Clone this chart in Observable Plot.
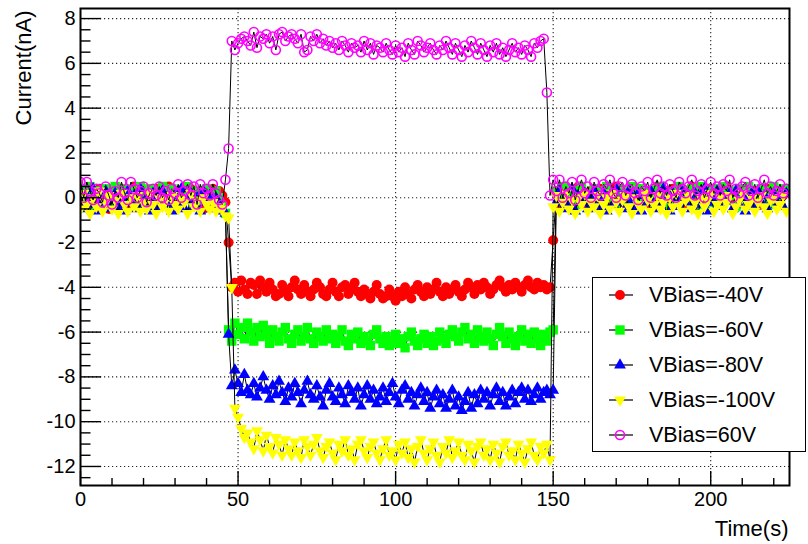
<!DOCTYPE html>
<html><head><meta charset="utf-8">
<script src="https://cdn.jsdelivr.net/npm/d3@7"></script>
<script src="https://cdn.jsdelivr.net/npm/@observablehq/plot@0.6"></script>
<style>
body{margin:0;background:#fff;font-family:"Liberation Sans",Arial,Helvetica,sans-serif;}
#wrap{position:relative;width:808px;height:544px;overflow:hidden;background:#fff}
#legend{position:absolute;left:592px;top:277px;width:212px;height:173px;border:1.5px solid #000;background:#fff}
.row{position:absolute;left:0;width:212px;height:30px;display:flex;align-items:center}
.row svg{margin-left:10px}
.row span{position:absolute;left:56px;font-size:21.5px;color:#000;white-space:nowrap}
</style></head><body><div id="wrap"></div>
<script>
// ---- data (1 sample per second, t = 0 .. 224 s) ----
const seriesNames = ["VBias=-40V","VBias=-60V","VBias=-80V","VBias=-100V","VBias=60V"];
const seriesColors = ["#ff0000","#00ff00","#0000ff","#ffff00","#ff00ff"];

const vb40 = [
0.1,-0.4,0.3,0.0,-0.3,0.2,0.4,-0.1,0.1,-0.5,
0.3,0.0,-0.2,0.4,0.1,-0.3,0.2,0.5,-0.1,0.0,
-0.4,0.3,0.1,-0.2,0.4,0.0,-0.3,0.2,0.5,0.1,
-0.1,0.3,-0.4,0.0,0.2,0.4,-0.2,0.1,0.3,-0.5,
0.2,0.0,0.4,-0.1,0.3,0.1,-0.2,
-2.0,
-4.0,-3.8,-4.2,-3.7,-4.1,-4.3,-3.8,-3.9,-4.3,-3.7,
-4.0,-4.2,-3.8,-4.1,-4.4,-4.3,-3.9,-4.2,-4.4,-4.0,
-3.7,-4.1,-4.3,-3.9,-4.2,-4.4,-4.1,-3.8,-4.0,-4.3,
-4.4,-4.1,-3.8,-4.2,-4.4,-4.0,-3.9,-4.3,-4.1,-3.8,
-4.2,-4.4,-4.1,-4.3,-4.5,-4.2,-3.9,-4.3,-4.5,-4.4,
-4.1,-4.4,-4.6,-4.2,-4.4,-4.0,-4.3,-4.5,-4.1,-3.9,
-4.2,-4.4,-4.0,-4.3,-4.1,-3.8,-4.2,-4.4,-4.0,-4.3,
-4.1,-3.9,-4.2,-4.4,-4.1,-3.8,-4.0,-4.3,-3.9,-4.1,
-3.8,-4.0,-4.3,-4.1,-3.9,-3.7,-4.0,-4.2,-3.9,-4.1,
-3.8,-4.0,-4.2,-3.9,-3.7,-4.0,-4.1,-3.8,-4.0,-3.9,
-4.1,-4.0,
-1.9,
0.2,-0.3,0.4,0.1,-0.2,0.3,0.0,0.5,-0.1,0.2,
-0.4,0.3,0.1,-0.2,0.4,0.0,0.3,-0.3,0.2,0.5,
0.0,-0.2,0.3,0.1,-0.4,0.2,0.4,-0.1,0.3,0.0,
-0.3,0.2,0.5,0.1,-0.2,0.3,-0.1,0.4,0.0,0.2,
-0.4,0.3,0.1,0.5,-0.2,0.0,0.3,-0.3,0.2,0.4,
0.1,-0.2,0.3,0.0,0.5,-0.1,0.2,-0.4,0.3,0.1,
0.4,-0.2,0.0,0.3,0.1,-0.3,0.2,0.4,0.0,0.2,
-0.1,0.3,0.1,0.4];

const vb60 = [
0.4,0.2,-0.3,0.5,0.1,-0.4,0.3,0.0,0.4,-0.2,
0.1,0.5,-0.3,0.2,0.4,-0.1,0.3,0.0,-0.4,0.5,
0.2,-0.2,0.4,0.1,-0.3,0.3,0.5,0.0,-0.2,0.4,
0.1,0.3,-0.4,0.2,0.5,0.0,-0.3,0.3,0.1,-0.1,
0.4,0.2,-0.2,0.3,0.0,-0.4,-0.7,
-5.9,
-6.4,-5.6,-6.1,-5.8,-6.3,-5.6,-6.0,-6.4,-5.8,-6.2,
-5.7,-6.1,-6.5,-5.9,-6.2,-6.4,-6.0,-5.8,-6.3,-6.5,
-6.1,-5.9,-6.4,-6.2,-5.8,-6.3,-6.5,-6.0,-6.2,-6.4,
-5.9,-6.3,-6.1,-6.5,-6.2,-5.9,-6.4,-6.6,-6.1,-6.3,
-6.0,-6.5,-6.2,-6.4,-6.6,-6.1,-5.9,-6.3,-6.5,-6.2,
-6.6,-6.4,-6.1,-6.5,-6.3,-6.7,-6.2,-6.0,-6.4,-6.6,
-6.3,-6.1,-6.5,-6.2,-6.6,-6.4,-6.0,-6.3,-6.5,-6.1,
-5.9,-6.2,-6.4,-6.0,-5.8,-6.3,-6.1,-6.5,-5.9,-6.2,
-6.4,-6.0,-6.3,-6.6,-6.1,-5.8,-6.2,-6.5,-6.0,-6.3,
-6.6,-6.2,-5.9,-6.4,-6.1,-6.5,-6.0,-6.3,-6.6,-6.1,
-6.4,-6.0,
-5.9,
0.3,0.0,0.5,-0.2,0.4,0.1,-0.3,0.3,0.5,0.0,
0.2,-0.4,0.4,0.1,0.3,-0.2,0.5,0.0,0.2,-0.3,
0.4,0.1,0.3,-0.1,0.5,0.2,-0.3,0.4,0.0,0.3,
0.1,-0.2,0.4,0.5,0.0,0.2,-0.4,0.3,0.1,0.5,
-0.1,0.3,0.0,0.4,0.2,-0.3,0.5,0.1,0.3,-0.2,
0.4,0.0,0.2,0.5,-0.1,0.3,0.1,-0.4,0.4,0.2,
0.0,0.5,0.3,-0.2,0.1,0.4,0.0,0.3,-0.3,0.5,
0.2,0.1,0.4,0.3];

const vb80 = [
0.3,-0.5,0.1,-0.3,0.4,-0.6,0.0,-0.2,0.3,-0.5,
-0.1,0.2,-0.4,0.0,-0.6,0.3,-0.2,0.1,-0.5,0.4,
-0.3,0.0,-0.6,0.2,-0.1,-0.4,0.3,-0.2,0.0,-0.6,
0.1,-0.3,0.4,-0.5,-0.1,0.2,-0.4,0.0,-0.6,0.3,
-0.2,0.1,-0.5,0.0,-0.3,-0.6,-0.7,
-6.1,
-8.4,-7.7,-8.3,-8.7,-7.9,-8.6,-8.8,-8.3,-8.9,-8.5,
-8.0,-8.6,-9.0,-8.4,-8.8,-8.2,-8.7,-9.1,-8.5,-8.9,
-8.3,-8.7,-9.2,-8.6,-8.2,-8.8,-9.0,-8.4,-8.9,-9.3,
-8.6,-8.3,-8.9,-9.1,-8.5,-8.8,-9.2,-8.4,-8.7,-9.0,
-8.5,-9.3,-8.8,-8.4,-9.0,-8.6,-9.2,-8.9,-8.5,-9.1,
-8.7,-8.3,-8.9,-9.2,-8.6,-8.4,-9.0,-8.7,-9.3,-8.8,
-8.5,-9.1,-8.7,-9.4,-8.9,-8.6,-9.2,-8.8,-9.4,-9.0,
-8.6,-9.3,-8.9,-9.5,-9.1,-8.7,-9.4,-8.8,-9.2,-8.6,
-9.0,-8.7,-9.3,-8.8,-8.5,-9.1,-8.7,-9.3,-8.9,-8.6,
-9.2,-8.7,-8.5,-9.0,-8.6,-9.1,-8.8,-8.5,-9.0,-8.7,
-8.6,-8.8,-8.6,
-0.2,0.3,-0.5,0.0,-0.3,0.4,-0.6,0.1,-0.2,0.2,
-0.5,0.0,0.3,-0.4,-0.1,0.2,-0.6,0.1,-0.3,0.4,
-0.2,0.0,-0.5,0.3,-0.1,-0.4,0.2,-0.6,0.1,-0.2,
0.3,-0.5,0.0,-0.3,0.4,-0.1,-0.6,0.2,0.0,-0.4,
0.3,-0.2,0.1,-0.5,0.2,-0.3,0.0,0.4,-0.6,0.1,
-0.2,0.3,-0.4,0.0,-0.1,0.2,-0.5,0.3,-0.3,0.1,
-0.6,0.0,0.2,-0.4,0.3,-0.2,0.1,-0.5,0.0,0.2,
-0.3,0.1,-0.4,0.2];

const vb100 = [
-0.5,0.2,-0.3,-0.7,0.0,-0.4,0.3,-0.6,-0.2,0.1,
-0.5,-0.1,-0.7,0.2,-0.3,-0.6,0.0,-0.4,0.1,-0.6,
-0.2,-0.5,0.2,-0.3,-0.7,0.0,-0.4,-0.1,-0.6,0.1,
-0.3,-0.5,0.0,-0.2,-0.7,0.2,-0.4,-0.1,-0.6,0.0,
-0.3,-0.5,-0.2,-0.6,-0.4,-0.5,-0.8,-0.9,
-4.0,
-9.4,
-9.8,-10.3,-10.7,-10.5,-10.9,-11.2,-10.4,-10.8,-11.3,-10.6,
-11.1,-11.4,-10.7,-11.0,-11.5,-10.8,-11.2,-11.5,-10.9,-11.3,
-11.6,-10.8,-11.1,-11.5,-11.0,-10.7,-11.3,-11.6,-11.1,-10.9,
-11.4,-11.7,-11.0,-11.3,-10.8,-11.5,-11.2,-11.7,-11.0,-10.8,
-11.3,-11.6,-11.1,-10.9,-11.4,-11.7,-11.2,-10.8,-11.5,-11.3,
-11.7,-11.0,-11.4,-10.9,-11.6,-11.2,-11.8,-11.1,-10.8,-11.4,
-11.7,-11.2,-10.9,-11.5,-11.8,-11.1,-11.4,-10.8,-11.6,-11.3,
-10.9,-11.5,-11.7,-11.0,-11.3,-11.8,-11.1,-10.9,-11.5,-11.2,
-11.7,-11.0,-11.4,-11.8,-11.1,-10.9,-11.5,-11.3,-11.7,-11.0,
-11.4,-11.8,-11.2,-10.9,-11.5,-11.7,-11.1,-11.4,-11.0,-11.7,
-0.4,0.1,-0.6,-0.2,0.2,-0.5,-0.1,-0.7,0.0,-0.3,
0.2,-0.6,-0.2,-0.4,0.1,-0.7,-0.3,0.0,-0.5,0.2,
-0.2,-0.6,-0.1,0.1,-0.4,-0.7,0.0,-0.3,-0.5,0.2,
-0.1,-0.6,-0.3,0.1,-0.5,-0.2,-0.7,0.0,-0.4,0.2,
-0.3,-0.6,-0.1,0.1,-0.5,-0.2,-0.7,0.0,-0.4,-0.1,
0.2,-0.6,-0.3,0.0,-0.5,-0.2,0.1,-0.7,-0.4,-0.1,
0.2,-0.5,-0.3,0.0,-0.6,-0.2,0.1,-0.4,-0.7,-0.1,
0.0,-0.5,-0.3,0.1,-0.6];

const vbp60 = [
0.7,0.0,0.7,0.3,-0.1,0.4,0.2,-0.2,0.5,0.1,
-0.3,0.3,0.0,0.7,0.2,-0.1,0.7,0.4,0.0,0.3,
0.5,-0.2,0.2,0.4,0.1,0.5,0.0,0.3,-0.1,0.4,
0.2,0.6,0.0,0.3,0.6,0.1,0.5,-0.3,0.6,0.2,
0.4,0.1,0.6,0.2,-0.1,-0.3,
0.8,2.2,
7.0,6.6,6.9,7.1,7.2,7.0,6.8,7.4,6.7,7.2,
7.1,7.3,6.9,7.2,6.6,7.3,7.4,7.0,7.2,7.3,
7.1,6.9,7.3,6.5,6.6,7.2,7.0,7.3,6.9,7.1,
6.8,7.0,6.7,6.9,6.6,7.0,6.8,6.5,6.9,6.7,
6.8,6.5,7.0,6.6,6.9,6.4,6.8,6.7,6.5,6.9,
6.6,6.4,6.8,6.5,6.7,6.3,6.9,6.6,6.4,7.0,
6.8,6.5,6.7,6.9,6.6,6.4,6.8,6.6,7.0,6.7,
6.4,6.9,6.6,6.3,6.8,6.5,7.0,6.7,6.4,6.9,
6.6,6.3,6.8,6.5,6.9,6.4,6.7,6.3,6.6,6.9,
6.5,6.7,6.4,6.8,6.6,6.3,6.9,6.7,7.0,7.1,
4.7,
0.1,0.8,0.3,0.8,0.0,0.5,0.2,0.7,-0.1,0.4,
0.8,0.2,0.5,0.0,0.7,0.3,0.1,0.6,0.4,0.8,
0.2,0.0,0.5,0.7,0.1,0.4,0.6,0.2,-0.1,0.5,
0.3,0.7,0.0,0.4,0.8,0.2,0.5,0.1,0.6,0.3,
0.0,0.7,0.4,0.2,0.5,0.8,0.1,0.3,0.6,0.0,
0.4,0.7,0.2,0.5,0.1,0.6,0.3,0.8,0.0,0.4,
0.2,0.5,0.7,0.1,0.3,0.6,0.0,0.4,0.8,0.2,
0.5,0.1,0.3,0.6,0.2,0.4];

// axis ticks and labels
const xMajor = [0,50,100,150,200];
const xMinor = [10,20,30,40,60,70,80,90,110,120,130,140,160,170,180,190,210,220];
const yMajor = [-12,-10,-8,-6,-4,-2,0,2,4,6,8];
const yMinor = [-12.5,-11.5,-11,-10.5,-9.5,-9,-8.5,-7.5,-7,-6.5,-5.5,-5,-4.5,-3.5,-3,-2.5,-1.5,-1,-0.5,0.5,1,1.5,2.5,3,3.5,4.5,5,5.5,6.5,7,7.5];
const xTitle = "Time(s)";
const yTitle = "Current(nA)";

// ---- layout ----
const W = 808, H = 544, mL = 80, mT = 8, mR = 19, mB = 59;
const fW = W - mL - mR, fH = H - mT - mB;

const triDown = {
  draw(context, size) {
    const y = Math.sqrt(size / (3 * Math.sqrt(3)));
    const s = Math.sqrt(3) * y;
    context.moveTo(0, 2 * y);
    context.lineTo(-s, -y);
    context.lineTo(s, -y);
    context.closePath();
  }
};

const allValues = [vb40, vb60, vb80, vb100, vbp60];
const styles = [
  {symbol: "circle", fill: seriesColors[0], stroke: "none", r: 5},
  {symbol: "square", fill: seriesColors[1], stroke: "none", r: 5.3},
  {symbol: "triangle", fill: seriesColors[2], stroke: "none", r: 4.4},
  {symbol: triDown, fill: seriesColors[3], stroke: "none", r: 4.4},
  {symbol: "circle", fill: "none", stroke: seriesColors[4], strokeWidth: 1.6, r: 4.5}
];
const tables = allValues.map(vals => vals.map((v, i) => ({t: i, v})));

const marks = [
  Plot.ruleX(xMajor, {stroke: "#222", strokeWidth: 1.1, strokeDasharray: "1.2,2.8"}),
  Plot.ruleY(yMajor, {stroke: "#222", strokeWidth: 1.1, strokeDasharray: "1.2,2.8"})
];
tables.forEach((tb, k) => {
  marks.push(Plot.line(tb, {x: "t", y: "v", stroke: "#000", strokeWidth: 1, clip: true}));
  marks.push(Plot.dot(tb, {x: "t", y: "v", ...styles[k], clip: true}));
});
marks.push(
  Plot.ruleX(xMajor, {stroke: "#000", strokeWidth: 1.4, insetTop: fH - 14}),
  Plot.ruleX(xMinor, {stroke: "#000", strokeWidth: 1.4, insetTop: fH - 7}),
  Plot.ruleY(yMajor, {stroke: "#000", strokeWidth: 1.4, insetRight: fW - 21}),
  Plot.ruleY(yMinor, {stroke: "#000", strokeWidth: 1.4, insetRight: fW - 10.5}),
  Plot.frame({stroke: "#000", strokeWidth: 2}),
  Plot.text([yTitle], {text: d => d, frameAnchor: "top-left", rotate: -90, textAnchor: "end", lineAnchor: "middle", dx: -57, dy: 2, fontSize: 22, fill: "#000"}),
  Plot.text([xTitle], {text: d => d, frameAnchor: "bottom-right", textAnchor: "end", lineAnchor: "middle", dx: -1, dy: 43, fontSize: 22, fill: "#000"})
);

const chart = Plot.plot({
  width: W, height: H,
  marginLeft: mL, marginTop: mT, marginRight: mR, marginBottom: mB,
  style: {fontFamily: '"Liberation Sans", Arial, sans-serif', fontSize: "20px", color: "#000", background: "#fff", overflow: "visible"},
  x: {domain: [0, 225], ticks: xMajor, tickSize: 0, tickPadding: 6, tickFormat: d => String(d), label: null},
  y: {domain: [-12.85, 8.45], ticks: yMajor, tickSize: 0, tickPadding: 5, tickFormat: d => String(d), label: null},
  marks
});
const wrap = document.getElementById("wrap");
wrap.appendChild(chart);

// ---- legend ----
const legend = document.createElement("div");
legend.id = "legend";
const symTypes = [d3.symbolCircle, d3.symbolSquare, d3.symbolTriangle, triDown, d3.symbolCircle];
seriesNames.forEach((name, k) => {
  const row = document.createElement("div");
  row.className = "row";
  row.style.top = (2 + 35 * k) + "px";
  const st = styles[k];
  const size = Math.PI * st.r * st.r;
  const path = d3.symbol(symTypes[k], size)();
  row.innerHTML = `<svg width="40" height="30" viewBox="0 0 40 30">
    <line x1="6" x2="30" y1="15" y2="15" stroke="#000" stroke-width="1.2"/>
    <path transform="translate(17,15)" d="${path}" fill="${st.fill}" stroke="${st.stroke}" stroke-width="${st.strokeWidth || 0}"/>
  </svg><span>${name}</span>`;
  legend.appendChild(row);
});
wrap.appendChild(legend);
</script>
</body></html>
